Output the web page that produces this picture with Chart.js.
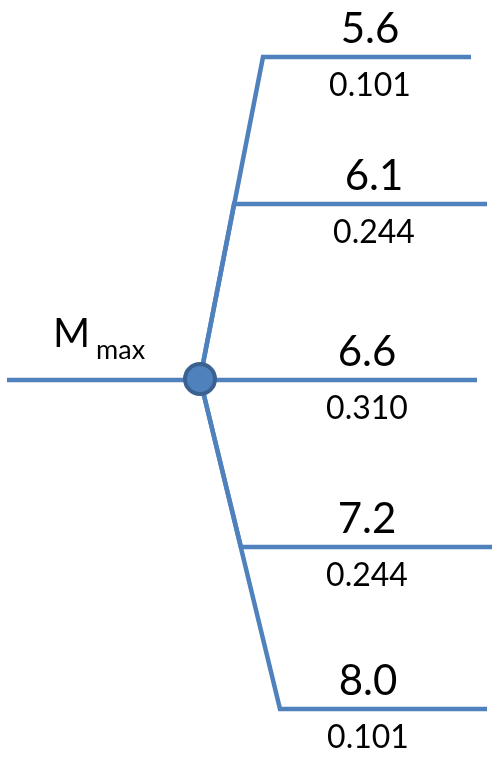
<!DOCTYPE html>
<html lang="en">

<head>
    <meta charset="UTF-8">
    <title>Logic tree - Mmax</title>
    <script src="https://cdn.jsdelivr.net/npm/chart.js"></script>
    <style>
        html, body { margin: 0; padding: 0; background: #fff; }
        canvas { display: block; }
    </style>
</head>

<body>
    <canvas id="tree" width="492" height="758"></canvas>

<script>
    // branch values: magnitude and weight of each branch
    var magnitudes = ['5.6', '6.1', '6.6', '7.2', '8.0'];
    var weights = ['0.101', '0.244', '0.310', '0.244', '0.101'];
    var nodeName = 'M';
    var nodeSub = 'max';

    // tree layout (diagram units = pixels on the 492x758 sheet)
    var branchLevel = [57, 204, 380, 547, 709];
    var branchKnee = [263, 234, 200, 241, 280];
    var branchEnd = [471, 487, 477, 492, 487];
    var labelCol = [370, 374, 367, 367, 368];
    var node = { x: 200, y: 379 };
    var trunkStart = 7;

    var blue = '#4F81BD';

    var datasets = [{
        label: 'node',
        data: [node],
        pointRadius: 15,
        pointBackgroundColor: blue,
        pointBorderColor: '#3A6190',
        pointBorderWidth: 4,
        showLine: false,
        order: 0
    }, {
        label: 'trunk',
        data: [{ x: trunkStart, y: branchLevel[2] }, { x: node.x, y: branchLevel[2] }],
        showLine: true,
        borderColor: blue,
        borderWidth: 4.5,
        pointRadius: 0,
        order: 1
    }];

    magnitudes.forEach(function (m, i) {
        var pts = [{ x: node.x, y: node.y }];
        if (branchKnee[i] !== node.x) pts.push({ x: branchKnee[i], y: branchLevel[i] });
        else pts[0] = { x: node.x, y: branchLevel[i] };
        pts.push({ x: branchEnd[i], y: branchLevel[i] });
        datasets.push({
            label: m,
            data: pts,
            showLine: true,
            borderColor: blue,
            borderWidth: 4.5,
            borderJoinStyle: 'miter',
            borderCapStyle: 'butt',
            pointRadius: 0,
            tension: 0,
            order: 1
        });
    });

    var labelPlugin = {
        id: 'treeLabels',
        afterDraw: function (chart) {
            var ctx = chart.ctx;
            var sx = chart.scales.x, sy = chart.scales.y;
            ctx.save();
            ctx.fillStyle = '#000';
            ctx.textAlign = 'center';
            ctx.textBaseline = 'alphabetic';
            magnitudes.forEach(function (m, i) {
                var x = sx.getPixelForValue(labelCol[i]);
                var y = sy.getPixelForValue(branchLevel[i]);
                ctx.font = '42px Lato';
                ctx.fillText(m, x, y - 14);
                ctx.font = '32px Lato';
                ctx.fillText(weights[i], x, y + 39);
            });
            // node name with subscript
            ctx.textAlign = 'left';
            var ny = sy.getPixelForValue(branchLevel[2]);
            ctx.font = '40px Lato';
            ctx.fillText(nodeName, sx.getPixelForValue(53), ny - 33);
            ctx.font = '27px Lato';
            ctx.fillText(nodeSub, sx.getPixelForValue(96), ny - 21);
            ctx.restore();
        }
    };

    new Chart(document.getElementById('tree'), {
        type: 'scatter',
        data: { datasets: datasets },
        options: {
            responsive: false,
            animation: false,
            layout: { padding: 0, autoPadding: false },
            plugins: { legend: { display: false }, tooltip: { enabled: false } },
            scales: {
                x: { type: 'linear', min: 0, max: 492, display: false },
                y: { type: 'linear', min: 0, max: 758, reverse: true, display: false }
            }
        },
        plugins: [labelPlugin]
    });
</script>
</body>

</html>
